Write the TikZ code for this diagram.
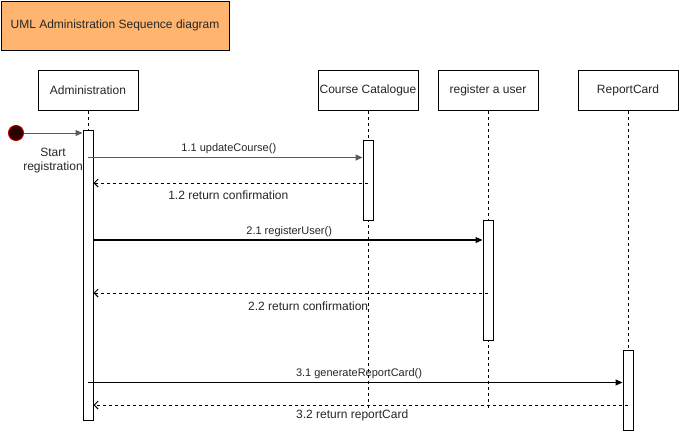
\documentclass[tikz,border=0pt]{standalone}
\usepackage{fontspec}
\setmainfont{Liberation Sans}
\usetikzlibrary{arrows.meta}
\definecolor{titlefill}{HTML}{FFB570}
\definecolor{startfill}{HTML}{2A0000}
\definecolor{startline}{HTML}{B20000}
\definecolor{msggray}{HTML}{5A5A5A}
\begin{document}
\begin{tikzpicture}[x=1pt,y=-1pt,
  every node/.style={font=\fontsize{12}{14}\selectfont, text=black!85},
  headbox/.style={draw, fill=white, minimum width=100pt, minimum height=40pt, inner sep=0pt, line width=1pt},
  actbar/.style={draw, fill=white, minimum width=10pt, inner sep=0pt, line width=1pt},
  lifeline/.style={dash pattern=on 3pt off 3pt, line width=1pt},
  call/.style={-{Triangle[length=7pt,width=6pt]}, line width=1.1pt},
  reply/.style={dash pattern=on 3pt off 3pt, -{Straight Barb[length=4pt,width=8pt]}, line width=1pt},
  calllabel/.style={font=\fontsize{11}{13}\selectfont, inner sep=0pt},
  replylabel/.style={font=\fontsize{12}{14}\selectfont, inner sep=0pt}]
\useasboundingbox (0,0) rectangle (679,431);

% title banner
\node[draw, fill=titlefill, line width=1pt, minimum width=228pt, minimum height=49pt,
      anchor=north west, inner sep=0pt] (title) at (0.5,0.5) {UML Administration Sequence diagram};

% lifeline heads
\node[headbox] (adm) at (88,90) {Administration};
\node[headbox] (cat) at (368,90) {Course Catalogue};
\node[headbox] (reg) at (488,90) {register a user};
\node[headbox] (rep) at (628,90) {ReportCard};

% lifelines
\coordinate (admEnd) at (88,130);
\coordinate (catEnd) at (368,408);
\coordinate (regEnd) at (488,408);
\coordinate (repEnd) at (628,350);
\draw[lifeline] (adm.south) -- (admEnd);
\draw[lifeline] (cat.south) -- (catEnd);
\draw[lifeline] (reg.south) -- (regEnd);
\draw[lifeline] (rep.south) -- (repEnd);

% activation bars
\node[actbar, minimum height=290pt] (admA) at (88,275) {};
\node[actbar, minimum height=80pt] (catA) at (368,180) {};
\node[actbar, minimum height=120pt] (regA) at (488,280) {};
\node[actbar, minimum height=80pt] (repA) at (628,390) {};

% start point
\node[circle, fill=startfill, draw=startline, line width=1pt, minimum size=15pt, inner sep=0pt] (start) at (16,133) {};
\draw[-{Triangle[length=7pt,width=6pt]}, draw=msggray, line width=1pt] (start) -- (admA.west |- start);
\node[align=center, inner sep=0pt] (startlbl) at (53,160.5) {Start\\registration};

% message levels
\coordinate (y11) at (0,157.5);
\coordinate (y12) at (0,183);
\coordinate (y21) at (0,240);
\coordinate (y22) at (0,293);
\coordinate (y31) at (0,382.5);
\coordinate (y32) at (0,405);

% messages
\draw[call, draw=msggray, line width=1.4pt] (admA.center |- y11) -- (catA.west |- y11)
  node[calllabel, pos=0.513, yshift=8.5pt] {1.1 updateCourse()};
\draw[reply] (catA.center |- y12) -- (admA.east |- y12)
  node[replylabel, pos=0.509, yshift=-12.5pt] {1.2 return confirmation};
\draw[call] (admA.east |- y21) -- (regA.west |- y21)
  node[calllabel, pos=0.503, yshift=8.5pt] {2.1 registerUser()};
\draw[reply] (regA.center |- y22) -- (admA.east |- y22)
  node[replylabel, pos=0.456, yshift=-13pt] {2.2 return confirmation};
\draw[call] (admA.center |- y31) -- (repA.west |- y31)
  node[calllabel, pos=0.507, yshift=9pt] {3.1 generateReportCard()};
\draw[reply] (repA.center |- y32) -- (admA.east |- y32)
  node[replylabel, pos=0.516, yshift=-10pt] {3.2 return reportCard};
\end{tikzpicture}
\end{document}
